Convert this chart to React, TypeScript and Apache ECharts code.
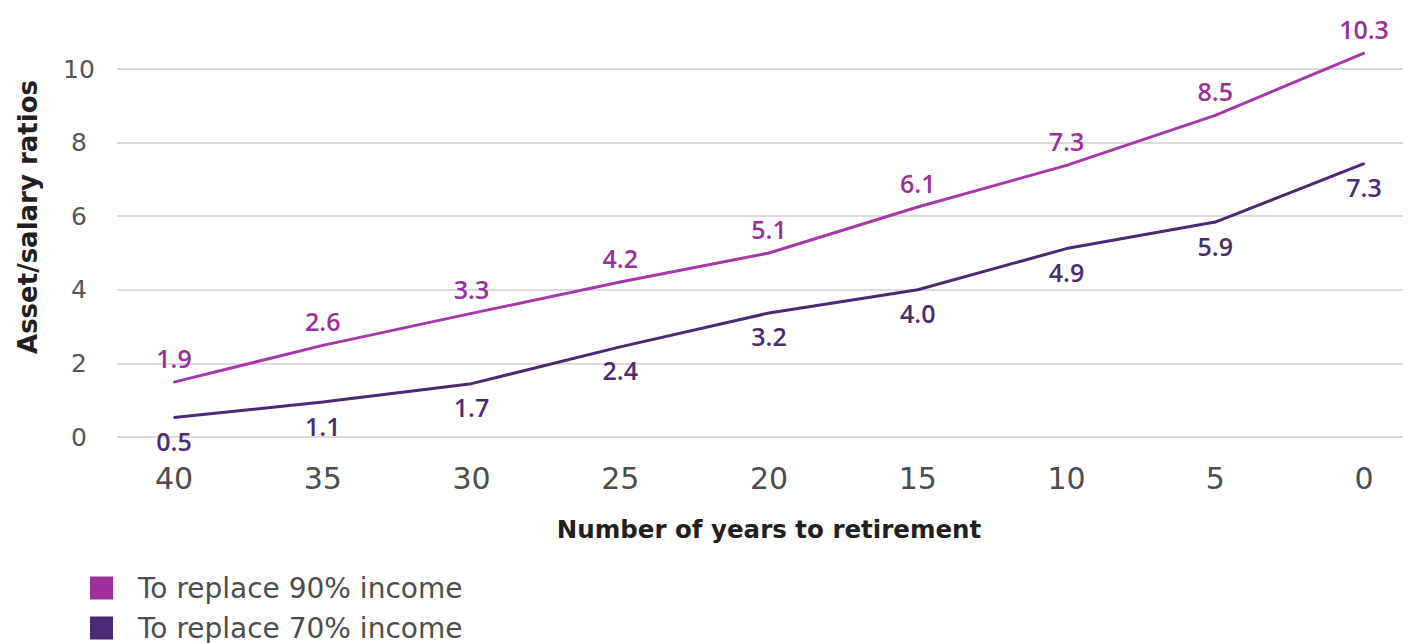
import React, { useEffect, useRef } from "react";
import * as echarts from "echarts";

// Years to retirement (category axis)
const years = ["40", "35", "30", "25", "20", "15", "10", "5", "0"];
// Plotted line values
const ratio90 = [1.49, 2.49, 3.36, 4.21, 5.0, 6.25, 7.38, 8.74, 10.43];
const ratio70 = [0.53, 0.95, 1.45, 2.45, 3.37, 4.0, 5.12, 5.84, 7.43];
// Printed data labels
const labels90 = [1.9, 2.6, 3.3, 4.2, 5.1, 6.1, 7.3, 8.5, 10.3];
const labels70 = [0.5, 1.1, 1.7, 2.4, 3.2, 4.0, 4.9, 5.9, 7.3];
// Y axis range
const yMin = 0;
const yMax = 10;
const yStep = 2;

const name90 = "To replace 90% income";
const name70 = "To replace 70% income";

export default function App() {
  const ref = useRef<HTMLDivElement>(null);

  useEffect(() => {
    document.body.style.margin = "0";
    if (!ref.current) return;
    const chart = echarts.init(ref.current, undefined, { renderer: "svg" });
    const top = 69;
    const bottom = 206;
    const legendBase = {
      orient: "vertical",
      left: 90,
      padding: 0,
      itemWidth: 23,
      itemHeight: 23,
      icon: "rect",
      textStyle: {
        fontFamily: "DejaVu Sans",
        fontSize: 28,
        color: "#4d4d4d",
        padding: [0, 0, 0, 20],
      },
    };
    chart.setOption({
      animation: false,
      backgroundColor: "#ffffff",
      grid: [
        { left: 117, right: 5, top, bottom },
        { left: 174, right: 44, top, bottom },
      ],
      xAxis: [
        { gridIndex: 0, type: "value", show: false },
        {
          gridIndex: 1,
          type: "category",
          data: years,
          boundaryGap: false,
          axisLine: { show: false },
          axisTick: { show: false },
          axisLabel: {
            fontFamily: "DejaVu Sans",
            fontSize: 30,
            color: "#4d4d4d",
            margin: 26,
          },
          name: "Number of years to retirement",
          nameLocation: "middle",
          nameGap: 80,
          nameTextStyle: {
            fontFamily: "DejaVu Sans",
            fontWeight: "bold",
            fontSize: 24.5,
            color: "#231f20",
          },
        },
      ],
      yAxis: [
        {
          gridIndex: 0,
          type: "value",
          min: yMin,
          max: yMax,
          interval: yStep,
          axisLine: { show: false },
          axisTick: { show: false },
          axisLabel: {
            align: "center",
            margin: 38,
            fontFamily: "DejaVu Sans",
            fontSize: 25,
            color: "#555555",
            padding: [12, 0, 0, 0],
          },
          splitLine: { lineStyle: { color: "#cfcfcf", width: 1.5 } },
        },
        {
          gridIndex: 1,
          type: "value",
          min: yMin,
          max: yMax,
          interval: yStep,
          show: false,
        },
      ],
      legend: [
        { ...legendBase, top: 574, data: [name90] },
        { ...legendBase, top: 614, data: [name70] },
      ],
      graphic: [
        {
          type: "text",
          x: 28,
          y: 217,
          rotation: Math.PI / 2,
          style: {
            text: "Asset/salary ratios",
            fontFamily: "DejaVu Sans",
            fontWeight: "bold",
            fontSize: 26,
            fill: "#231f20",
            align: "center",
            verticalAlign: "middle",
          },
        },
      ],
      series: [
        {
          name: name90,
          type: "line",
          xAxisIndex: 1,
          yAxisIndex: 1,
          data: ratio90,
          clip: false,
          symbol: "circle",
          symbolSize: 2,
          showSymbol: true,
          lineStyle: { color: "#a43aa6", width: 3 },
          itemStyle: { color: "#9e2f9c" },
          label: {
            show: true,
            position: "top",
            distance: 11,
            formatter: (p: any) => labels90[p.dataIndex].toFixed(1),
            fontFamily: "Open Sans",
            fontWeight: 600,
            fontSize: 25,
            color: "#9b2f98",
          },
        },
        {
          name: name70,
          type: "line",
          xAxisIndex: 1,
          yAxisIndex: 1,
          data: ratio70,
          clip: false,
          symbol: "circle",
          symbolSize: 2,
          showSymbol: true,
          lineStyle: { color: "#4b2a73", width: 3 },
          itemStyle: { color: "#4a2a72" },
          label: {
            show: true,
            position: "bottom",
            distance: 10,
            formatter: (p: any) => labels70[p.dataIndex].toFixed(1),
            fontFamily: "Open Sans",
            fontWeight: 600,
            fontSize: 25,
            color: "#4b2d6f",
          },
        },
      ],
    });
    return () => chart.dispose();
  }, []);

  return <div ref={ref} style={{ width: 1408, height: 643 }} />;
}
